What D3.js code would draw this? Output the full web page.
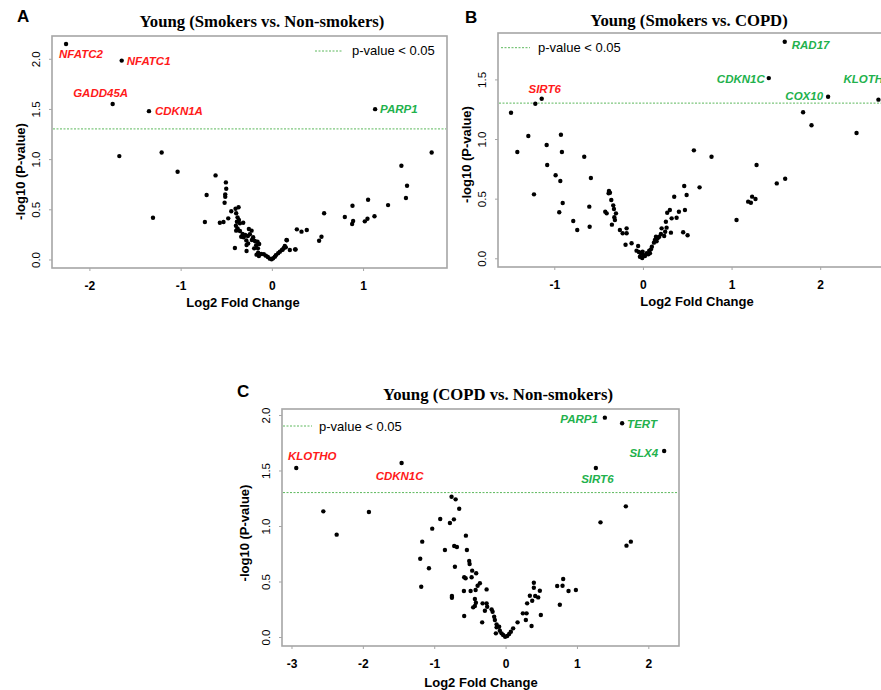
<!DOCTYPE html>
<html>
<head>
<meta charset="utf-8">
<script src="https://cdn.jsdelivr.net/npm/d3@7"></script>
<style>
  html, body { margin: 0; padding: 0; background: #fff; }
  svg { display: block; }
</style>
</head>
<body>
<svg id="chart" width="881" height="690"></svg>
<script>
// ---------------- DATA ----------------
const titles = ["Young (Smokers vs. Non-smokers)", "Young (Smokers vs. COPD)", "Young (COPD vs. Non-smokers)"];
const panelLetters = ["A", "B", "C"];
const legendText = "p-value < 0.05";
const threshold = -Math.log10(0.05);

const xTicksA = [-2, -1, 0, 1];
const xTicksB = [-1, 0, 1, 2];
const xTicksC = [-3, -2, -1, 0, 1, 2];
const yTicksA = [0, 0.5, 1.0, 1.5, 2.0];
const yTicksB = [0, 0.5, 1.0, 1.5];
const yTicksC = [0, 0.5, 1.0, 1.5, 2.0];

// [log2 fold change, -log10 p]
const pointsA = [
  [-2.256,2.147],[-1.646,1.982],[-1.745,1.55],[-1.347,1.478],[1.132,1.498],
  [-1.672,1.03],[-1.208,1.066],[-1.033,0.874],[-1.303,0.416],[-0.617,0.838],[-0.715,0.642],[-0.734,0.373],
  [1.752,1.066],[1.42,0.934],[1.482,0.734],[1.47,0.612],[1.274,0.542],[1.055,0.595],[1.125,0.43],[1.048,0.406],
  [1.019,0.38],[0.884,0.536],[0.891,0.383],[0.88,0.353],[0.8,0.423],[0.573,0.46],[0.544,0.227],[0.518,0.187],
  [0.274,0.3],[0.325,0.277],[0.383,0.294],[0.161,0.194],[0.26,0.1],[0.197,0.094],
  [-0.504,0.768],[-0.5,0.705],[-0.511,0.649],[-0.511,0.625],[-0.518,0.565],[-0.57,0.366],[-0.53,0.373],
  [-0.478,0.41],[-0.445,0.48],[-0.398,0.506],[-0.365,0.52],[-0.391,0.46],[-0.376,0.42],[-0.361,0.393],
  [-0.383,0.376],[-0.35,0.36],[-0.314,0.366],[-0.394,0.336],[-0.376,0.31],[-0.391,0.287],[-0.35,0.284],
  [-0.321,0.254],[-0.336,0.227],[-0.31,0.221],[-0.292,0.244],[-0.252,0.303],[-0.222,0.287],[-0.241,0.251],
  [-0.263,0.234],[-0.205,0.221],[-0.219,0.194],[-0.186,0.184],[-0.157,0.177],[-0.139,0.154],[-0.172,0.141],
  [-0.405,0.114],[-0.277,0.144],[-0.277,0.085],[-0.194,0.111],[-0.153,0.111],[-0.15,0.068],[-0.168,0.048],
  [-0.142,0.035],[-0.117,0.055],[-0.088,0.052],[-0.066,0.038],[-0.044,0.025],[-0.022,0.008],[-0.003,0.002],
  [0.014,0.012],[0.033,0.028],[0.044,0.042],[0.069,0.062],[0.088,0.078],[0.11,0.094],[0.131,0.114],
  [0.153,0.121],[0.164,0.191],[0.255,0.101],[0.142,0.134],[0.12,0.1],[-0.28,0.19],[-0.26,0.16]
];
const pointsB = [
  [-1.142,1.338],[1.60,1.816],[1.42,1.511],[2.089,1.355],[2.657,1.33],
  [-1.214,1.296],[-1.488,1.22],[-1.417,0.891],[-1.293,1.025],[-1.086,0.95],[-0.925,1.036],[-0.914,0.891],
  [-0.662,0.852],[1.807,1.224],[1.902,1.115],[2.41,1.05],[0.575,0.905],[0.774,0.852],
  [-1.08,0.782],[-1.229,0.536],[-0.985,0.696],[-0.932,0.648],[-0.905,0.463],[-0.944,0.386],[-0.786,0.313],
  [-0.741,0.237],[-0.587,0.673],[-0.605,0.433],[-0.601,0.265],[1.282,0.782],[1.605,0.667],[1.51,0.628],
  [1.187,0.475],[1.218,0.466],[1.232,0.517],[1.27,0.497],[1.056,0.321],
  [-0.383,0.564],[-0.372,0.55],[-0.387,0.545],[-0.357,0.489],[-0.335,0.444],[-0.327,0.413],[-0.425,0.391],
  [-0.409,0.377],[-0.304,0.377],[-0.323,0.344],[-0.316,0.321],[-0.35,0.282],[-0.26,0.237],[-0.184,0.251],
  [-0.229,0.21],[-0.184,0.21],[-0.196,0.114],[-0.128,0.126],[-0.054,0.103],[-0.072,0.064],[-0.046,0.053],
  [-0.023,0.042],[0.003,0.028],[-0.004,0.056],[-0.034,0.013],[-0.008,0.003],[0.023,0.019],[0.042,0.042],
  [0.06,0.034],[0.071,0.064],[0.09,0.075],[0.079,0.042],[0.101,0.097],[0.124,0.131],[0.135,0.153],
  [0.154,0.142],[0.166,0.168],[0.147,0.181],[0.184,0.181],[0.203,0.204],[0.211,0.251],[0.24,0.187],
  [0.251,0.223],[0.267,0.257],[0.259,0.307],[0.274,0.382],[0.304,0.405],[0.324,0.335],[0.316,0.215],
  [0.353,0.516],[0.38,0.34],[0.406,0.39],[0.454,0.218],[0.504,0.193],[0.474,0.405],[0.466,0.606],
  [0.493,0.531],[0.639,0.595]
];
const pointsC = [
  [-2.933,1.523],[-1.457,1.568],[1.391,1.976],[1.633,1.925],[2.222,1.676],[1.265,1.523],
  [-2.554,1.132],[-1.915,1.126],[1.685,1.177],[1.33,1.033],[-0.757,1.264],[-0.7,1.24],[-0.65,1.156],
  [-0.916,1.063],[-0.724,1.06],[-0.78,1.027],[-1.028,0.976],[1.694,0.823],[1.755,0.859],
  [-2.367,0.922],[-1.168,0.859],[-1.196,0.705],[-1.074,0.619],[-1.182,0.453],[-0.85,0.784],[-0.72,0.82],
  [-0.682,0.811],[-0.556,0.913],[-0.542,0.784],[-0.71,0.633],[-0.51,0.685],[-0.504,0.658],[-0.468,0.598],
  [-0.412,0.574],[-0.58,0.538],[-0.56,0.529],[-0.476,0.538],[-0.36,0.484],[-0.392,0.462],[-0.42,0.423],
  [-0.49,0.414],[-0.584,0.414],[-0.266,0.429],[-0.752,0.369],[-0.752,0.354],[-0.43,0.342],[-0.416,0.309],
  [-0.454,0.267],[-0.43,0.279],[-0.322,0.303],[-0.266,0.303],[-0.258,0.273],[-0.29,0.237],[-0.196,0.249],
  [-0.182,0.228],[-0.58,0.189],[-0.328,0.132],[-0.16,0.183],[-0.15,0.153],[-0.126,0.114],[-0.126,0.087],
  [-0.09,0.093],[-0.136,0.033],[-0.08,0.057],[-0.056,0.033],[-0.034,0.018],[-0.006,0.003],[0.022,0.009],
  [0.05,0.027],[0.074,0.048],[0.106,0.078],[0.168,0.132],[0.242,0.213],[0.294,0.213],[0.284,0.153],
  [0.364,0.099],[0.302,0.303],[0.34,0.372],[0.373,0.327],[0.396,0.489],[0.396,0.444],[0.415,0.369],
  [0.457,0.357],[0.48,0.417],[0.494,0.198],[0.723,0.459],[0.807,0.523],[0.798,0.462],[0.76,0.291],
  [0.882,0.414],[0.985,0.423]
];

// labelled genes: [gene, log2FC, -log10 p]
const genesA = [["NFATC2",-2.256,2.147],["NFATC1",-1.646,1.982],["GADD45A",-1.745,1.55],["CDKN1A",-1.347,1.478],["PARP1",1.132,1.498]];
const genesB = [["SIRT6",-1.142,1.338],["RAD17",1.60,1.816],["CDKN1C",1.42,1.511],["COX10",2.089,1.355],["KLOTHO",2.657,1.33]];
const genesC = [["KLOTHO",-2.933,1.523],["CDKN1C",-1.457,1.568],["PARP1",1.391,1.976],["TERT",1.633,1.925],["SLX4",2.222,1.676],["SIRT6",1.265,1.523]];

// ---------------- LAYOUT / STYLE ----------------
const RED = "#ff1a1a", GREEN = "#22b14c", BOXC = "#a6a6a6", DASHC = "#5cb85c";
const SANS = "Liberation Sans, Arial, sans-serif";
const SERIF = "Liberation Serif, 'Times New Roman', serif";

// label offsets in px relative to the dot: [anchor, dx, dy]
const labelPlace = {
  "A:NFATC2": ["start", -7, 14.3], "A:NFATC1": ["start", 5, 4], "A:GADD45A": ["middle", -12, -7],
  "A:CDKN1A": ["start", 6, 3.5], "A:PARP1": ["start", 5, 3.5],
  "B:SIRT6": ["middle", 3, -6], "B:RAD17": ["start", 7, 7], "B:CDKN1C": ["end", -4, 5.3],
  "B:COX10": ["end", -5, 3.5], "B:KLOTHO": ["start", -35, -16.4],
  "C:KLOTHO": ["middle", 16, -8], "C:CDKN1C": ["middle", -2, 17], "C:PARP1": ["end", -7, 5.6],
  "C:TERT": ["start", 5, 5], "C:SLX4": ["end", -6, 5.7], "C:SIRT6": ["middle", 1.5, 15.3]
};

const panels = [
  { id: "A", title: titles[0], letter: panelLetters[0], pts: pointsA, genes: genesA, xt: xTicksA, yt: yTicksA,
    box: { l: 52, r: 447, t: 36, b: 268 }, xd: [-2.41, 1.92], yd: [-0.085, 2.227],
    letterPos: [17, 22], titlePos: [262, 27], leg: { x1: 315, x2: 343, y: 51, tx: 352, ty: 55 },
    xlab: [243, 306.5], ylab: [25, 171.5] },
  { id: "B", title: titles[1], letter: panelLetters[1], pts: pointsB, genes: genesB, xt: xTicksB, yt: yTicksB,
    box: { l: 498, r: 892, t: 33, b: 267 }, xd: [-1.635, 2.81], yd: [-0.073, 1.889],
    letterPos: [465, 23], titlePos: [689, 26], leg: { x1: 501, x2: 530, y: 47.7, tx: 538, ty: 51.5 },
    xlab: [697, 305.5], ylab: [471, 154.5] },
  { id: "C", title: titles[2], letter: panelLetters[2], pts: pointsC, genes: genesC, xt: xTicksC, yt: yTicksC,
    box: { l: 282, r: 679, t: 409, b: 646 }, xd: [-3.133, 2.43], yd: [-0.081, 2.054],
    letterPos: [237, 397], titlePos: [498, 400], leg: { x1: 283, x2: 312, y: 426, tx: 319, ty: 430.5 },
    xlab: [481, 686.5], ylab: [249, 533] }
];

// ---------------- DRAW ----------------
const svg = d3.select("#chart");

panels.forEach(p => {
  const g = svg.append("g");
  const x = d3.scaleLinear().domain(p.xd).range([p.box.l, p.box.r]);
  const y = d3.scaleLinear().domain(p.yd).range([p.box.b, p.box.t]);

  // panel letter
  g.append("text").attr("x", p.letterPos[0]).attr("y", p.letterPos[1])
    .attr("font-family", SANS).attr("font-weight", "bold").attr("font-size", 17).text(p.letter);

  // title
  g.append("text").attr("x", p.titlePos[0]).attr("y", p.titlePos[1]).attr("text-anchor", "middle")
    .attr("font-family", SERIF).attr("font-weight", "bold").attr("font-size", 16.7).text(p.title);

  // x axis
  const xAxis = d3.axisBottom(x).tickValues(p.xt).tickSize(3).tickPadding(9).tickFormat(d3.format("d"));
  const gx = g.append("g").attr("transform", `translate(0,${p.box.b})`).call(xAxis);
  gx.select(".domain").remove();
  gx.selectAll(".tick line").attr("stroke", BOXC).attr("stroke-width", 1);
  gx.selectAll(".tick text").attr("font-family", SANS).attr("font-weight", "bold").attr("font-size", 12)
    .attr("fill", "#000").attr("dy", null).attr("y", 22).text(d => d < 0 ? "-" + Math.abs(d) : d);

  // y axis
  const yAxis = d3.axisLeft(y).tickValues(p.yt).tickSize(3).tickFormat(d3.format(".1f"));
  const gy = g.append("g").attr("transform", `translate(${p.box.l},0)`).call(yAxis);
  gy.select(".domain").remove();
  gy.selectAll(".tick line").attr("stroke", BOXC).attr("stroke-width", 1);
  gy.selectAll(".tick text").attr("font-family", SANS).attr("font-size", 11.5).attr("fill", "#000")
    .attr("x", null).attr("dy", null).attr("text-anchor", "middle")
    .attr("transform", "translate(-12,0) rotate(-90)").attr("y", 0);

  // box
  g.append("rect").attr("x", p.box.l).attr("y", p.box.t)
    .attr("width", p.box.r - p.box.l).attr("height", p.box.b - p.box.t)
    .attr("fill", "none").attr("stroke", BOXC).attr("stroke-width", 1.6);

  // threshold line
  g.append("line").attr("x1", p.box.l + 1).attr("x2", p.box.r - 1)
    .attr("y1", y(threshold)).attr("y2", y(threshold))
    .attr("stroke", DASHC).attr("stroke-width", 1).attr("stroke-dasharray", "2,1.5");

  // legend
  g.append("line").attr("x1", p.leg.x1).attr("x2", p.leg.x2).attr("y1", p.leg.y).attr("y2", p.leg.y)
    .attr("stroke", DASHC).attr("stroke-width", 1).attr("stroke-dasharray", "2,1.5");
  g.append("text").attr("x", p.leg.tx).attr("y", p.leg.ty)
    .attr("font-family", SANS).attr("font-size", 13).attr("fill", "#000").text(legendText);

  // points
  g.append("g").selectAll("circle").data(p.pts).join("circle")
    .attr("cx", d => x(d[0])).attr("cy", d => y(d[1])).attr("r", 2.2).attr("fill", "#000");

  // gene labels
  g.append("g").selectAll("text").data(p.genes).join("text")
    .each(function (d) {
      const pl = labelPlace[p.id + ":" + d[0]];
      d3.select(this).attr("x", x(d[1]) + pl[1]).attr("y", y(d[2]) + pl[2]).attr("text-anchor", pl[0]);
    })
    .attr("font-family", SANS).attr("font-weight", "bold").attr("font-style", "italic").attr("font-size", 11.5)
    .attr("fill", d => d[1] < 0 ? RED : GREEN).text(d => d[0]);

  // axis titles
  g.append("text").attr("x", p.xlab[0]).attr("y", p.xlab[1]).attr("text-anchor", "middle")
    .attr("font-family", SANS).attr("font-weight", "bold").attr("font-size", 13).text("Log2 Fold Change");
  g.append("text").attr("transform", `translate(${p.ylab[0]},${p.ylab[1]}) rotate(-90)`)
    .attr("text-anchor", "middle").attr("font-family", SANS).attr("font-weight", "bold").attr("font-size", 13)
    .text("-log10 (P-value)");
});
</script>
</body>
</html>
